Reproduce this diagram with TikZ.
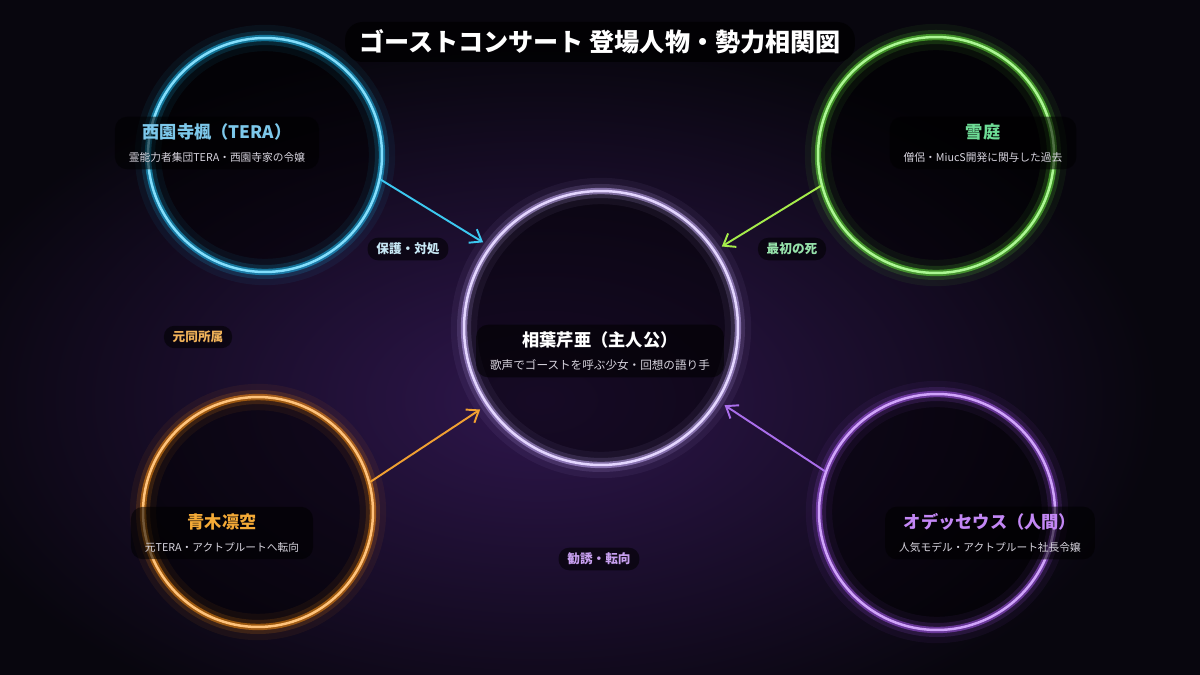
\documentclass[tikz,border=0pt]{standalone}
\usepackage{fontspec}
\setmainfont{Noto Sans CJK JP}
\usetikzlibrary{arrows.meta,positioning,calc}
\definecolor{bgdark}{RGB}{8,6,14}
\definecolor{haze}{RGB}{46,22,76}
\definecolor{teraBlue}{RGB}{30,195,250}
\definecolor{yukiGreen}{RGB}{105,240,60}
\definecolor{aokiOrange}{RGB}{255,145,15}
\definecolor{odyPurple}{RGB}{170,90,245}
\definecolor{heroGlow}{RGB}{205,180,255}
\definecolor{teraName}{RGB}{125,200,235}
\definecolor{yukiName}{RGB}{110,220,150}
\definecolor{aokiName}{RGB}{245,170,55}
\definecolor{odyName}{RGB}{195,135,245}
\definecolor{subGray}{RGB}{215,212,222}
\newcommand{\namefont}{\fontsize{9.8}{12}\selectfont\bfseries}
\newcommand{\subfont}{\fontsize{6.1}{7.6}\selectfont}

\begin{document}
\begin{tikzpicture}[x=0.02cm,y=-0.02cm]
	%defines
	\tikzstyle{ring} = [circle, inner sep=0pt,
		preaction={fill=black, fill opacity=.5},
		preaction={draw=#1, draw opacity=.06, line width=15pt},
		preaction={draw=#1, draw opacity=.14, line width=8pt},
		preaction={draw=#1, draw opacity=.5, line width=3.6pt},
		draw=#1!55!white, line width=1.4pt]
	\tikzstyle{tag} = [rectangle, rounded corners=7pt, fill=black, fill opacity=.55, text opacity=1, inner xsep=8pt, inner ysep=4pt, align=center, text=subGray]
	\tikzstyle{edgetag} = [rectangle, rounded corners=6pt, fill=black, fill opacity=.55, text opacity=1, inner xsep=5pt, inner ysep=3pt, font=\fontsize{7.2}{9}\selectfont\bfseries]
	\tikzstyle{titlebox} = [rectangle, rounded corners=10pt, fill=black, fill opacity=.7, text opacity=1, text=white, minimum width=10.2cm, minimum height=0.8cm, font=\fontsize{14.3}{16}\selectfont\bfseries]
	\tikzstyle{arrow} = [line width=1.1pt, -{Straight Barb[length=6pt, width=9pt]}]
	%background
	\useasboundingbox (0,0) rectangle (1200,675);
	\begin{scope}
		\clip (0,0) rectangle (1200,675);
		\fill[bgdark] (0,0) rectangle (1200,675);
		\shade[inner color=haze, outer color=bgdark] (540,400) ellipse (620 and 360);
	\end{scope}
	%chart
	\node (tera) [ring=teraBlue, minimum size=4.68cm] at (265,155) {};
	\node (yuki) [ring=yukiGreen, minimum size=4.72cm] at (936,155) {};
	\node (hero) [ring=heroGlow, minimum size=5.48cm, outer sep=5pt] at (601,328) {};
	\node (aoki) [ring=aokiOrange, minimum size=4.6cm] at (258,512) {};
	\node (ody) [ring=odyPurple, minimum size=4.72cm] at (937,512) {};
	\node (title) [titlebox] at (600,42) {ゴーストコンサート 登場人物・勢力相関図};
	\node (teraLabel) [tag] at (217,143) {{\namefont\textcolor{teraName}{西園寺楓（TERA）}}\\[1pt]{\subfont 霊能力者集団TERA・西園寺家の令嬢}};
	\node (yukiLabel) [tag] at (983,143) {{\namefont\textcolor{yukiName}{雪庭}}\\[1pt]{\subfont 僧侶・MiucS開発に関与した過去}};
	\node (heroLabel) [tag] at (600,351) {{\namefont\textcolor{white}{相葉芹亜（主人公）}}\\[1pt]{\fontsize{6.6}{8}\selectfont 歌声でゴーストを呼ぶ少女・回想の語り手}};
	\node (aokiLabel) [tag] at (222,533) {{\namefont\textcolor{aokiName}{青木凛空}}\\[1pt]{\subfont 元TERA・アクトプルートへ転向}};
	\node (odyLabel) [tag] at (990,533) {{\namefont\textcolor{odyName}{オデッセウス（人間）}}\\[1pt]{\subfont 人気モデル・アクトプルート社長令嬢}};
	\node (protect) [edgetag, text={rgb,255:red,200;green,232;blue,245}] at (408,249) {保護・対処};
	\node (firstDeath) [edgetag, text={rgb,255:red,150;green,225;blue,170}] at (792,249) {最初の死};
	\node (formerTeam) [edgetag, text={rgb,255:red,242;green,180;blue,90}] at (198,337) {元同所属};
	\node (recruit) [edgetag, text={rgb,255:red,200;green,160;blue,240}] at (599,559) {勧誘・転向};
	\draw [arrow, draw={rgb,255:red,60;green,200;blue,240}] (tera.-12) -- (hero.144);
	\draw [arrow, draw={rgb,255:red,165;green,235;blue,75}] (yuki.195) -- (hero.34);
	\draw [arrow, draw={rgb,255:red,240;green,160;blue,50}] (aoki.15) -- (hero.214);
	\draw [arrow, draw={rgb,255:red,170;green,110;blue,235}] (ody.160) -- (hero.-32);
\end{tikzpicture}
\end{document}
